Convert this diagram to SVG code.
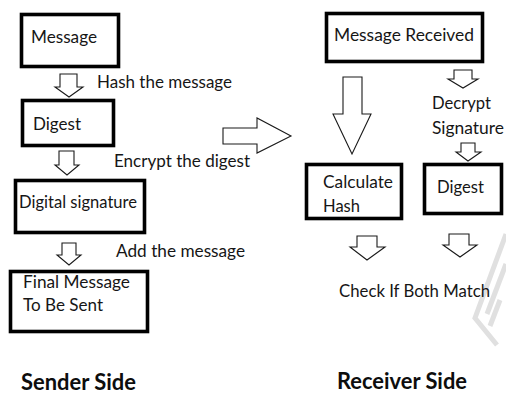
<svg xmlns="http://www.w3.org/2000/svg" width="506" height="394" viewBox="0 0 506 394">
  <style>
    .box { fill: #ffffff; stroke: #000000; stroke-width: 3.6; }
    .lbl { font-family: "Lato", "Open Sans", sans-serif; font-size: 18px; fill: #161616; }
    .side { font-family: "Lato", "Open Sans", sans-serif; font-size: 22px; font-weight: bold; fill: #0d0d0d; }
    .arr { fill: #ffffff; stroke: #1a1a1a; stroke-width: 1.1; stroke-linejoin: miter; }
    .mark { fill: none; stroke: #e0e0e0; stroke-width: 5; stroke-linecap: butt; }
  </style>

  <rect width="506" height="394" fill="#ffffff"/>

  <!-- faint mark in the lower right corner -->
  <g id="corner-mark">
    <polyline class="mark" points="506,234 475,318 497,345"/>
    <line class="mark" x1="506" y1="264" x2="487" y2="314"/>
    <line class="mark" stroke-width="3" x1="500" y1="300" x2="490" y2="326"/>
  </g>

  <!-- block arrows -->
  <g id="connectors">
    <polygon class="arr" points="60,74 77,74 77,87 83,87 69,97 55,87 60,87"/>
    <polygon class="arr" points="59,151 74,151 74,165 79,165 67,175 55,165 59,165"/>
    <polygon class="arr" points="62,243 76,243 76,255 81,255 69,265 57,255 62,255"/>
    <polygon class="arr" points="223,128 257,128 257,118 291,136 257,153 257,144 223,144"/>
    <polygon class="arr" points="343,77 362,77 362,114 371,114 352,154 333,114 343,114"/>
    <polygon class="arr" points="454,70 472,70 472,79 478,79 463,88 448,79 454,79"/>
    <polygon class="arr" points="461,143 475,143 475,152 481,152 468,161 456,152 461,152"/>
    <polygon class="arr" points="357,236 377,236 377,247 385,247 367,260 350,247 357,247"/>
    <polygon class="arr" points="449,234 469,234 469,245 477,245 460,257 443,245 449,245"/>
  </g>

  <!-- step labels beside the arrows -->
  <g id="labels">
    <text class="lbl" x="97" y="88" textLength="135" lengthAdjust="spacingAndGlyphs">Hash the message</text>
    <text class="lbl" x="114" y="167" textLength="136" lengthAdjust="spacingAndGlyphs">Encrypt the digest</text>
    <text class="lbl" x="116" y="257" textLength="129" lengthAdjust="spacingAndGlyphs">Add the message</text>
    <text class="lbl" x="432" y="109" textLength="59" lengthAdjust="spacingAndGlyphs">Decrypt</text>
    <text class="lbl" x="432" y="134" textLength="72" lengthAdjust="spacingAndGlyphs">Signature</text>
    <text class="lbl" x="339" y="297" textLength="151" lengthAdjust="spacingAndGlyphs">Check If Both Match</text>
  </g>

  <!-- sender side -->
  <g id="message">
    <rect class="box" x="21.5" y="14.5" width="97" height="52"/>
    <text class="lbl" x="31" y="43" textLength="66" lengthAdjust="spacingAndGlyphs">Message</text>
  </g>
  <g id="digest-sender">
    <rect class="box" x="22.5" y="100.5" width="91" height="45"/>
    <text class="lbl" x="33" y="130" textLength="48" lengthAdjust="spacingAndGlyphs">Digest</text>
  </g>
  <g id="digital-signature">
    <rect class="box" x="15.5" y="180.5" width="129" height="52"/>
    <text class="lbl" x="19" y="208" textLength="118" lengthAdjust="spacingAndGlyphs">Digital signature</text>
  </g>
  <g id="final-message">
    <rect class="box" x="10.5" y="271.5" width="137" height="60"/>
    <text class="lbl" x="23" y="288" textLength="107" lengthAdjust="spacingAndGlyphs">Final Message</text>
    <text class="lbl" x="23" y="311" textLength="80" lengthAdjust="spacingAndGlyphs">To Be Sent</text>
  </g>

  <!-- receiver side -->
  <g id="message-received">
    <rect class="box" x="326.5" y="13.5" width="156" height="48"/>
    <text class="lbl" x="334" y="41" textLength="140" lengthAdjust="spacingAndGlyphs">Message Received</text>
  </g>
  <g id="calculate-hash">
    <rect class="box" x="306.5" y="164.5" width="95" height="54"/>
    <text class="lbl" x="323" y="188" textLength="70" lengthAdjust="spacingAndGlyphs">Calculate</text>
    <text class="lbl" x="323" y="212" textLength="37" lengthAdjust="spacingAndGlyphs">Hash</text>
  </g>
  <g id="digest-receiver">
    <rect class="box" x="424.5" y="164.5" width="77" height="49"/>
    <text class="lbl" x="437" y="193" textLength="47" lengthAdjust="spacingAndGlyphs">Digest</text>
  </g>

  <!-- side captions -->
  <g id="captions">
    <text class="side" x="21" y="390" textLength="115" lengthAdjust="spacingAndGlyphs">Sender Side</text>
    <text class="side" x="337" y="389" textLength="130" lengthAdjust="spacingAndGlyphs">Receiver Side</text>
  </g>
</svg>
